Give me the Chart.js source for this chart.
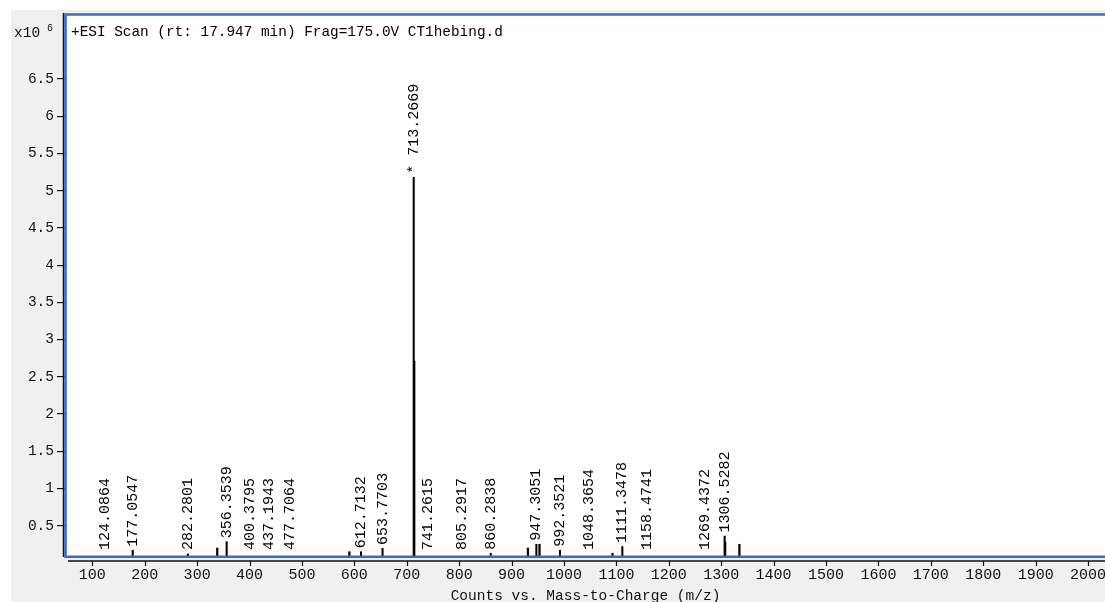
<!DOCTYPE html>
<html>
<head>
<meta charset="utf-8">
<script src="https://cdn.jsdelivr.net/npm/chart.js@4/dist/chart.umd.min.js"></script>
<style>
  html, body { margin: 0; padding: 0; background: #fff; overflow: hidden; }
  #panel { position: absolute; left: 11px; top: 10px; width: 1094px; height: 592px; background: #f0f0f0; }
  #wrap { position: absolute; left: 0; top: 0; width: 1105px; height: 602px; }
</style>
</head>
<body>
<div id="panel"></div>
<div id="wrap"><canvas id="c" width="1105" height="602"></canvas></div>
<script>
// Labelled centroid peaks: m/z and abundance (x10^6 counts)
const labeledMz = [124.0864, 177.0547, 282.2801, 356.3539, 400.3795, 437.1943, 477.7064,
                   612.7132, 653.7703, 713.2669, 741.2615, 805.2917, 860.2838, 947.3051,
                   992.3521, 1048.3654, 1111.3478, 1158.4741, 1269.4372, 1306.5282];
const labeledIntensity = [0.05, 0.17, 0.12, 0.285, 0.05, 0.05, 0.05,
                          0.15, 0.195, 5.18, 0.05, 0.05, 0.13, 0.25,
                          0.17, 0.05, 0.22, 0.05, 0.05, 0.36];

// Unlabelled peaks (isotopes and minor ions)
const otherMz = [338.4, 590.5, 714.27, 931.2, 953.3, 1092.5, 1307.53, 1334.7];
const otherIntensity = [0.20, 0.15, 2.71, 0.20, 0.25, 0.13, 0.28, 0.25];

// Axis ticks
const xTicks = [100, 200, 300, 400, 500, 600, 700, 800, 900, 1000,
                1100, 1200, 1300, 1400, 1500, 1600, 1700, 1800, 1900, 2000];
const yTicks = [0.5, 1, 1.5, 2, 2.5, 3, 3.5, 4, 4.5, 5, 5.5, 6, 6.5];

const scanTitle = '+ESI Scan (rt: 17.947 min) Frag=175.0V CT1hebing.d';
const xTitle = 'Counts vs. Mass-to-Charge (m/z)';

const MONO = '"Liberation Mono", "DejaVu Sans Mono", monospace';
const basePeak = Math.max(...labeledIntensity);

const spectrumFrame = {
  id: 'spectrumFrame',
  beforeDraw(chart) {
    const { ctx, chartArea: a } = chart;
    ctx.save();
    ctx.fillStyle = '#fff';
    ctx.fillRect(a.left, a.top, a.right - a.left, a.bottom - a.top);
    ctx.restore();
  },
  afterDatasetsDraw(chart) {
    const { ctx, chartArea: a, scales } = chart;
    const xs = scales.x, ys = scales.y;
    ctx.save();

    // peak annotations, rotated, sitting just above each stick
    ctx.font = '15px ' + MONO;
    ctx.fillStyle = '#000';
    ctx.textAlign = 'left';
    ctx.textBaseline = 'middle';
    labeledMz.forEach((mz, i) => {
      const px = xs.getPixelForValue(mz);
      const py = Math.min(ys.getPixelForValue(labeledIntensity[i]), a.bottom - 2.5) - 3.5;
      const txt = (labeledIntensity[i] === basePeak ? '* ' : '') + mz.toFixed(4);
      ctx.save();
      ctx.translate(px, py);
      ctx.rotate(-Math.PI / 2);
      ctx.fillText(txt, 0, 0);
      ctx.restore();
    });

    // black axis lines outside the frame
    ctx.strokeStyle = '#111';
    ctx.lineWidth = 1.5;
    ctx.beginPath();
    ctx.moveTo(63.5, a.top - 1);
    ctx.lineTo(63.5, a.bottom + 1);
    ctx.stroke();
    ctx.beginPath();
    ctx.moveTo(68, a.bottom + 5);
    ctx.lineTo(a.right, a.bottom + 5);
    ctx.stroke();
    ctx.lineWidth = 1.2;
    xs.ticks.forEach(t => {
      const px = Math.round(xs.getPixelForValue(t.value)) + 0.5;
      ctx.beginPath();
      ctx.moveTo(px, a.bottom + 5);
      ctx.lineTo(px, a.bottom + 10);
      ctx.stroke();
    });

    // blue plot frame (open on the right)
    ctx.strokeStyle = '#3a6bc9';
    ctx.lineWidth = 2.6;
    ctx.beginPath();
    ctx.moveTo(a.right + 5, a.top + 0.5);
    ctx.lineTo(a.left - 0.5, a.top + 0.5);
    ctx.lineTo(a.left - 0.5, a.bottom + 0.7);
    ctx.lineTo(a.right + 5, a.bottom + 0.7);
    ctx.stroke();

    // scan header
    ctx.fillStyle = '#000';
    ctx.font = '14.4px ' + MONO;
    ctx.textBaseline = 'middle';
    ctx.fillText(scanTitle, 71, 32);

    // axis multiplier
    ctx.fillStyle = '#111';
    ctx.font = '14.5px ' + MONO;
    ctx.fillText('x10', 14, 33);
    ctx.font = '10px ' + MONO;
    ctx.fillText('6', 47, 28);
    ctx.restore();
  }
};

new Chart(document.getElementById('c'), {
  type: 'bar',
  data: {
    datasets: [
      {
        data: labeledMz.map((m, i) => ({ x: m, y: labeledIntensity[i] })),
        backgroundColor: '#000',
        borderWidth: 0,
        barThickness: 1.4,
        grouped: false
      },
      {
        data: otherMz.map((m, i) => ({ x: m, y: otherIntensity[i] })),
        backgroundColor: '#000',
        borderWidth: 0,
        barThickness: 1.6,
        grouped: false
      }
    ]
  },
  options: {
    responsive: false,
    animation: false,
    devicePixelRatio: 1,
    layout: { padding: { top: 14, left: 0, right: 0, bottom: 0 } },
    plugins: { legend: { display: false }, tooltip: { enabled: false } },
    scales: {
      x: {
        type: 'linear',
        min: 49.8,
        max: 2032.3,
        offset: false,
        grid: { display: false, drawTicks: false, offset: false },
        border: { display: false },
        afterBuildTicks: s => { s.ticks = xTicks.map(v => ({ value: v })); },
        afterFit: s => { s.height = 46; s.paddingLeft = 0; s.paddingRight = 0; },
        ticks: {
          autoSkip: false,
          maxRotation: 0,
          padding: 10,
          color: '#111',
          font: { family: MONO, size: 15 },
          callback: v => String(v)
        },
        title: {
          display: true,
          text: xTitle,
          color: '#111',
          padding: 0,
          font: { family: MONO, size: 14.5, lineHeight: 0.8 }
        }
      },
      y: {
        type: 'linear',
        min: 0.0927,
        max: 7.373,
        grid: { drawOnChartArea: false, drawTicks: true, tickLength: 9, tickColor: '#111', lineWidth: 1.2 },
        border: { display: false },
        afterBuildTicks: s => { s.ticks = yTicks.map(v => ({ value: v })); },
        afterFit: s => { s.width = 66; s.paddingTop = 0; s.paddingBottom = 0; },
        ticks: {
          padding: 3,
          color: '#111',
          font: { family: MONO, size: 14.5 },
          callback: v => String(v)
        }
      }
    }
  },
  plugins: [spectrumFrame]
});
</script>
</body>
</html>
